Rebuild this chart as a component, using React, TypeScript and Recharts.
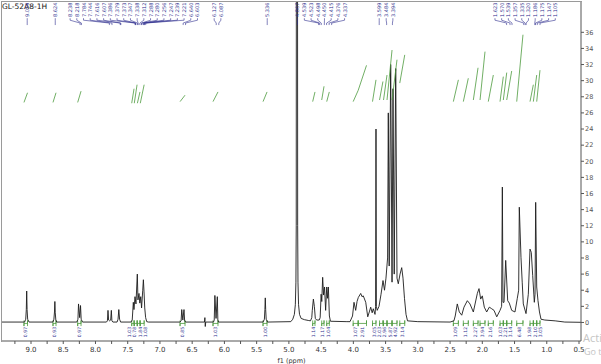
import React from "react";
import { ComposedChart, Line, Scatter, XAxis, YAxis } from "recharts";

type Pt = [number, number];
// [from ppm, to ppm, curve start, curve end, integral value]
type Integral = [number, number, number, number, string];

const spectrumTitle = "GL-52A8-1H";
const xAxisTitle = "f1 (ppm)";

// spectrum trace as [ppm, intensity]
const aromaticTrace: Pt[] = [
  [9.45, 0.05], [9.1, 0.05], [9.082, 0.4], [9.073, 1.6], [9.067, 3.9], [9.061, 1.6], [9.052, 0.4], [9.03, 0.05],
  [8.66, 0.05], [8.645, 0.4], [8.636, 1.3], [8.63, 2.6], [8.624, 1.2], [8.615, 0.3], [8.6, 0.05],
  [8.29, 0.05], [8.272, 0.4], [8.263, 2.3], [8.245, 0.6], [8.232, 2.1], [8.222, 0.4], [8.2, 0.05],
  [7.83, 0.05], [7.815, 0.2], [7.806, 1.5], [7.796, 0.3], [7.78, 0.2], [7.764, 0.3], [7.754, 1.5], [7.745, 0.2], [7.73, 0.05],
  [7.665, 0.05], [7.65, 0.4], [7.638, 1.6], [7.626, 0.4], [7.61, 0.05],
  [7.45, 0.05], [7.43, 0.3], [7.413, 2.5], [7.403, 1.6], [7.387, 3.2], [7.372, 2.3], [7.351, 6.0], [7.341, 2.8],
  [7.325, 3.6], [7.312, 2.4], [7.298, 3.2], [7.285, 1.8], [7.267, 4.0], [7.257, 5.3], [7.247, 3.8], [7.236, 1.8],
  [7.222, 0.6], [7.205, 0.1], [7.18, 0.05],
];

const olefinicTrace: Pt[] = [
  [6.69, 0.05], [6.672, 0.2], [6.662, 1.6], [6.645, 0.3], [6.627, 1.6], [6.617, 0.2], [6.6, 0.05],
  [6.31, 0.05], [6.303, 0.6], [6.297, -0.5], [6.29, 0.05],
  [6.17, 0.05], [6.158, 0.3], [6.148, 3.35], [6.13, 0.5], [6.11, 3.2], [6.102, 0.3], [6.09, 0.05],
  [5.4, 0.05], [5.38, 0.4], [5.372, 1.6], [5.366, 3.05], [5.36, 1.6], [5.352, 0.4], [5.33, 0.05],
];

const solventTrace: Pt[] = [
  [4.97, 0.1], [4.94, 0.4], [4.915, 1.0], [4.9, 2.2], [4.891, 5], [4.886, 12], [4.884, 48], [4.866, 48],
  [4.864, 12], [4.859, 5], [4.85, 2.2], [4.835, 1.0], [4.81, 0.5], [4.76, 0.35], [4.7, 0.25],
];

const methineTrace: Pt[] = [
  [4.665, 0.2], [4.645, 0.6], [4.637, 1.5], [4.62, 2.9], [4.605, 2.0], [4.59, 0.5], [4.57, 0.3], [4.53, 0.3],
  [4.515, 0.6], [4.5, 3.5], [4.49, 2.6], [4.476, 5.6], [4.462, 3.4], [4.447, 4.4], [4.43, 1.5], [4.413, 4.4],
  [4.4, 3.0], [4.388, 4.4], [4.372, 0.8], [4.355, 0.15], [4.1, 0.1],
];

const oxygenatedTrace: Pt[] = [
  [4.052, 0.1], [4.013, 0.8], [3.99, 2.5], [3.964, 1.5], [3.943, 2.6], [3.923, 3.1], [3.886, 3.6], [3.866, 3.2],
  [3.846, 3.3], [3.808, 2.5], [3.777, 0.7], [3.753, 1.3], [3.731, 1.9], [3.708, 1.2], [3.691, 1.7], [3.664, 1.0],
  [3.655, 2.0], [3.649, 24], [3.643, 2.0], [3.63, 1.5], [3.602, 2.0], [3.571, 3.5], [3.54, 5.2], [3.517, 4.0],
  [3.494, 5.5], [3.469, 8], [3.458, 26], [3.444, 7], [3.421, 32], [3.4, 5], [3.385, 29], [3.366, 6],
  [3.343, 31.5], [3.323, 5.5], [3.303, 4.8], [3.276, 6.0], [3.25, 6.8], [3.23, 5.5], [3.207, 3.0], [3.183, 1.0],
  [3.16, 0.2], [3.0, 0.1], [2.5, 0.05],
];

const aliphaticTrace: Pt[] = [
  [2.44, 0.2], [2.42, 0.8], [2.388, 2.3], [2.357, 1.3], [2.319, 0.9], [2.284, 1.9], [2.232, 2.7], [2.191, 2.3],
  [2.139, 1.3], [2.077, 3.6], [2.051, 4.2], [2.025, 2.9], [2.0, 3.3], [1.969, 1.9], [1.932, 1.3], [1.891, 1.9],
  [1.854, 1.7], [1.818, 1.5], [1.776, 0.7], [1.725, 1.5], [1.7, 2.0], [1.689, 16.8], [1.679, 2.5], [1.663, 2.5],
  [1.637, 7.7], [1.606, 2.7], [1.581, 2.4], [1.544, 1.5], [1.493, 1.3], [1.457, 3.0], [1.436, 4.0], [1.426, 14.3],
  [1.4, 8.1], [1.381, 5.0], [1.364, 2.3], [1.322, 1.1], [1.286, 3.5], [1.26, 9.1], [1.24, 8.7], [1.218, 5.8],
  [1.193, 2.5], [1.182, 3.5], [1.172, 14.9], [1.156, 4.4], [1.136, 2.7], [1.113, 1.3], [1.089, 0.4], [1.03, 0.3],
  [0.87, 0.2], [0.72, 0.05], [0.47, 0.02],
];

const aromaticIntegrals: Integral[] = [
  [9.109, 9.054, 27.3, 28.5, "0.97"],
  [8.659, 8.612, 27.3, 28.5, "0.93"],
  [8.276, 8.224, 27.3, 28.7, "0.97"],
  [7.438, 7.402, 27.2, 29.0, "1.03"],
  [7.398, 7.355, 27.2, 29.5, "0.78"],
  [7.35, 7.31, 27.2, 28.6, "1.84"],
  [7.305, 7.245, 27.2, 29.5, "1.08"],
  [6.688, 6.611, 27.4, 28.2, "0.85"],
  [6.177, 6.1, 27.4, 28.6, "1.03"],
  [5.401, 5.339, 27.4, 28.6, "1.00"],
];

const methineIntegrals: Integral[] = [
  [4.631, 4.595, 27.4, 28.6, "1.14"],
  [4.491, 4.455, 27.6, 29.3, "1.17"],
  [4.413, 4.373, 27.4, 28.6, "1.04"],
];

const oxygenatedIntegrals: Integral[] = [
  [4.003, 3.925, 27.4, 28.8, "1.07"],
  [3.925, 3.796, 28.8, 31.9, "2.91"],
  [3.703, 3.649, 27.4, 30.1, "3.05"],
  [3.594, 3.541, 27.6, 29.9, "2.03"],
  [3.532, 3.478, 27.6, 30.7, "2.96"],
  [3.478, 3.4, 27.6, 33.8, "5.87"],
  [3.4, 3.323, 27.6, 32.6, "4.92"],
  [3.28, 3.203, 29.7, 33.2, "3.14"],
];

const aliphaticIntegrals: Integral[] = [
  [2.449, 2.371, 27.4, 30.1, "1.09"],
  [2.294, 2.217, 27.4, 30.3, "1.12"],
  [2.139, 2.066, 27.6, 31.6, "2.27"],
  [2.035, 1.958, 27.6, 33.6, "3.94"],
  [1.907, 1.829, 27.4, 30.7, "2.16"],
  [1.725, 1.674, 27.4, 30.5, "1.03"],
  [1.674, 1.621, 27.6, 31.0, "2.21"],
  [1.621, 1.544, 27.6, 31.2, "3.14"],
  [1.466, 1.369, 27.4, 35.7, "6.48"],
  [1.26, 1.208, 27.4, 29.5, "1.98"],
  [1.208, 1.156, 27.4, 30.7, "2.10"],
  [1.156, 1.105, 27.4, 31.3, "3.05"],
];

const aromaticPeakLabels = [
  "9.059", "8.624", "8.238", "8.218", "7.784", "7.744", "7.616", "7.607", "7.386", "7.379", "7.373", "7.347",
  "7.338", "7.312", "7.288", "7.280", "7.256", "7.247", "7.239", "7.221", "6.640", "6.603", "6.127", "6.087", "5.336",
];
const aliphaticPeakLabels = [
  "4.867", "4.539", "4.523", "4.498", "4.450", "4.415", "4.376", "4.337", "3.599", "3.484", "3.394",
  "1.623", "1.570", "1.539", "1.357", "1.335", "1.320", "1.186", "1.175", "1.147", "1.105",
];

const xTicks = [
  9.25, 9.0, 8.75, 8.5, 8.25, 8.0, 7.75, 7.5, 7.25, 7.0, 6.75, 6.5, 6.25, 6.0, 5.75, 5.5, 5.25, 5.0,
  4.75, 4.5, 4.25, 4.0, 3.75, 3.5, 3.25, 3.0, 2.75, 2.5, 2.25, 2.0, 1.75, 1.5, 1.25, 1.0, 0.75, 0.5,
];
const yTicks = [0, 2, 4, 6, 8, 10, 12, 14, 16, 18, 20, 22, 24, 26, 28, 30, 32, 34, 36];

const X_DOMAIN: [number, number] = [0.469, 9.45];
const Y_DOMAIN: [number, number] = [-2.3, 39.76];
const FONT = "DejaVu Sans, Verdana, sans-serif";
const LABEL_BLUE = "#2f2f8f";
const GREEN = "#4d9a3e";

// push labels apart so neighbours keep a minimum gap (in ppm)
function spread(values: number[], gap: number) {
  const pos = [...values];
  for (let it = 0; it < 3000; it++) {
    let moved = false;
    for (let i = 0; i < pos.length - 1; i++) {
      const d = pos[i] - pos[i + 1];
      if (d < gap - 1e-5) {
        const s = (gap - d) / 2;
        pos[i] += s;
        pos[i + 1] -= s;
        moved = true;
      }
    }
    if (!moved) break;
  }
  return pos;
}

const spectrum = [
  ...aromaticTrace, ...olefinicTrace, ...solventTrace, ...methineTrace, ...oxygenatedTrace, ...aliphaticTrace,
].map(([x, y]) => ({ x, y }));

const integrals = [...aromaticIntegrals, ...methineIntegrals, ...oxygenatedIntegrals, ...aliphaticIntegrals];

const integralCurves = integrals.flatMap(([from, to, a, b]) => [
  { x: from, y: a },
  { x: to, y: b },
  { x: to, y: null },
]);

const integralBrackets = integrals.flatMap(([from, to]) => [
  { x: from, y: 0.25 },
  { x: from, y: -0.45 },
  { x: from, y: -0.12 },
  { x: to, y: -0.12 },
  { x: to, y: 0.25 },
  { x: to, y: -0.45 },
  { x: to, y: null },
]);

const integralCenters = spread(integrals.map(([from, to]) => (from + to) / 2), 0.082);
const integralLabels = integrals.map((it, i) => ({ x: integralCenters[i], y: -0.55, text: it[4] }));

const peakLabelTexts = [...aromaticPeakLabels, ...aliphaticPeakLabels];
const peakValues = peakLabelTexts.map((t) => parseFloat(t));
const peakLabelPos = spread(peakValues, 0.104);
const peakLabels = peakLabelTexts.map((t, i) => ({ x: peakLabelPos[i], y: 37.9, text: t }));
const peakConnectors = peakValues.flatMap((v, i) => [
  { x: peakLabelPos[i], y: 37.75 },
  { x: peakLabelPos[i], y: 37.5 },
  { x: v, y: 37.15 },
  { x: v, y: 36.9 },
  { x: v, y: null },
]);

const PeakLabel = (props: any) => {
  const { cx, cy, payload } = props;
  if (cx == null || cy == null) return <g />;
  return (
    <text
      transform={`translate(${cx},${cy}) rotate(-90)`}
      fontSize={5}
      fill={LABEL_BLUE}
      fontFamily={FONT}
      textAnchor="start"
      dominantBaseline="central"
    >
      {payload.text}
    </text>
  );
};

const IntegralLabel = (props: any) => {
  const { cx, cy, payload } = props;
  if (cx == null || cy == null) return <g />;
  return (
    <text
      transform={`translate(${cx},${cy}) rotate(-90)`}
      fontSize={4.6}
      fill={LABEL_BLUE}
      fontFamily={FONT}
      textAnchor="end"
      dominantBaseline="central"
    >
      {payload.text}
    </text>
  );
};

const formatPpm = (v: number) => (Math.abs(v * 2 - Math.round(v * 2)) < 1e-6 ? v.toFixed(1) : "");

export default function App() {
  return (
    <div style={{ position: "relative", width: 601, height: 364, overflow: "hidden", background: "#fff" }}>
      <style>{`body{margin:0;}`}</style>
      <div
        style={{
          position: "absolute",
          left: 1,
          top: 1,
          width: 580,
          height: 340,
          borderLeft: "1px solid #9a9a9a",
          borderTop: "1px solid #9a9a9a",
        }}
      />
      <div style={{ position: "absolute", left: 2, top: 3, fontSize: 7.5, lineHeight: 1, fontFamily: FONT, color: "#111" }}>
        {spectrumTitle}
      </div>
      <div style={{ position: "absolute", left: 0, top: 0 }}>
        <ComposedChart width={601} height={364} margin={{ top: 2, right: 0, bottom: 0, left: 2 }}>
          <XAxis
            dataKey="x"
            type="number"
            reversed
            domain={X_DOMAIN}
            allowDataOverflow
            ticks={xTicks}
            interval={0}
            tickFormatter={formatPpm}
            height={23}
            tickSize={3}
            tickMargin={3}
            stroke="#555"
            tick={{ fontSize: 7, fill: "#333", fontFamily: FONT }}
            label={{ value: xAxisTitle, position: "insideBottom", offset: 1, fontSize: 6.5, fill: "#333", fontFamily: FONT }}
          />
          <YAxis
            orientation="right"
            type="number"
            domain={Y_DOMAIN}
            allowDataOverflow
            ticks={yTicks}
            interval={0}
            width={20}
            tickSize={3}
            tickMargin={1}
            stroke="#555"
            tick={{ fontSize: 6.5, fill: "#555", fontFamily: FONT }}
          />
          <Line data={integralBrackets} dataKey="y" stroke={GREEN} strokeWidth={0.8} dot={false} activeDot={false} isAnimationActive={false} />
          <Line data={spectrum} dataKey="y" stroke="#1c1c1c" strokeWidth={0.9} dot={false} activeDot={false} isAnimationActive={false} />
          <Line data={integralCurves} dataKey="y" stroke={GREEN} strokeWidth={0.8} dot={false} activeDot={false} isAnimationActive={false} />
          <Line data={peakConnectors} dataKey="y" stroke={LABEL_BLUE} strokeWidth={0.6} dot={false} activeDot={false} isAnimationActive={false} />
          <Scatter data={peakLabels} dataKey="y" shape={PeakLabel} isAnimationActive={false} />
          <Scatter data={integralLabels} dataKey="y" shape={IntegralLabel} isAnimationActive={false} />
        </ComposedChart>
      </div>
      <div
        style={{
          position: "absolute",
          left: 583,
          top: 332,
          fontSize: 11,
          lineHeight: 1,
          fontFamily: "Open Sans, sans-serif",
          color: "#c4c4c4",
          whiteSpace: "nowrap",
        }}
      >
        Activate Windows
      </div>
      <div
        style={{
          position: "absolute",
          left: 584,
          top: 347,
          fontSize: 9,
          lineHeight: 1,
          fontFamily: "Open Sans, sans-serif",
          color: "#c4c4c4",
          whiteSpace: "nowrap",
        }}
      >
        Go to Settings to activate Windows.
      </div>
    </div>
  );
}
